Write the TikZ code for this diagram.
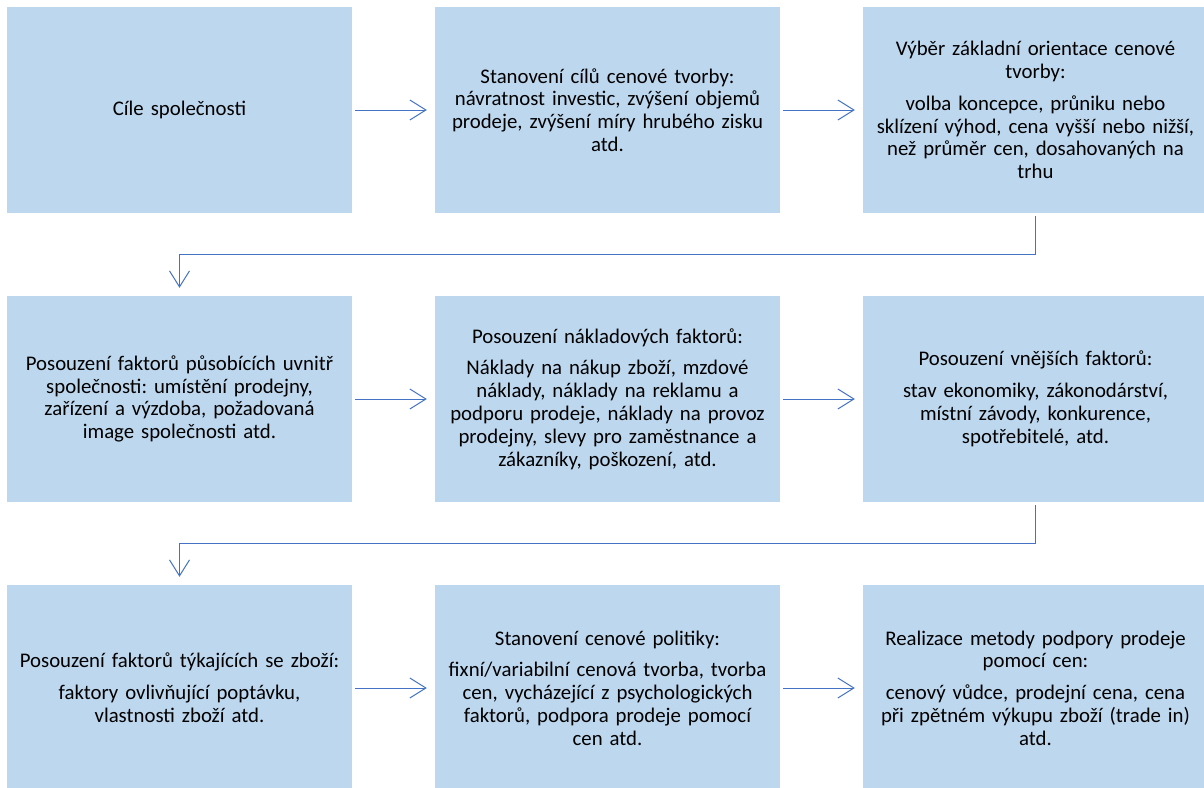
\documentclass[tikz,border=0pt]{standalone}
\usepackage{fontspec}
\setmainfont{Carlito}
\usetikzlibrary{arrows.meta}
\definecolor{boxblue}{HTML}{BDD7EE}
\definecolor{linkblue}{HTML}{4472C4}
\frenchspacing
\begin{document}
\frenchspacing
\begin{tikzpicture}[x=1pt,y=-1pt,
  stepbox/.style={rectangle, fill=boxblue, minimum width=345pt, minimum height=206pt, inner sep=0pt, text width=338pt, align=center, font=\fontsize{20.8}{22.8}\selectfont\frenchspacing},
  link/.style={draw=linkblue, line width=1pt, -{Straight Barb[length=16pt,width=20pt]}, shorten <=3pt, shorten >=8pt}]
\useasboundingbox (0,0) rectangle (1204,787);
\coordinate (m1) at (0,254.5);
\coordinate (m2) at (0,543.5);
\node[stepbox] (b1) at (179.5,110) {Cíle společnosti};
\node[stepbox] (b2) at (607.5,110) {Stanovení cílů cenové tvorby:\\ návratnost investic, zvýšení objemů\\ prodeje, zvýšení míry hrubého zisku\\ atd.};
\node[stepbox] (b3) at (1035.5,110) {Výběr základní orientace cenové\\ tvorby:\\[9pt] volba koncepce, průniku nebo\\ sklízení výhod, cena vyšší nebo nižší,\\ než průměr cen, dosahovaných na\\ trhu};
\node[stepbox] (b4) at (179.5,399) {Posouzení faktorů působících uvnitř\\ společnosti: umístění prodejny,\\ zařízení a výzdoba, požadovaná\\ image společnosti atd.};
\node[stepbox] (b5) at (607.5,399) {Posouzení nákladových faktorů:\\[9pt] Náklady na nákup zboží, mzdové\\ náklady, náklady na reklamu a\\ podporu prodeje, náklady na provoz\\ prodejny, slevy pro zaměstnance a\\ zákazníky, poškození, atd.};
\node[stepbox] (b6) at (1035.5,399) {Posouzení vnějších faktorů:\\[9pt] stav ekonomiky, zákonodárství,\\ místní závody, konkurence,\\ spotřebitelé, atd.};
\node[stepbox] (b7) at (179.5,688) {Posouzení faktorů týkajících se zboží:\\[9pt] faktory ovlivňující poptávku,\\ vlastnosti zboží atd.};
\node[stepbox] (b8) at (607.5,688) {Stanovení cenové politiky:\\[9pt] fixní/variabilní cenová tvorba, tvorba\\ cen, vycházející z psychologických\\ faktorů, podpora prodeje pomocí\\ cen atd.};
\node[stepbox] (b9) at (1035.5,688) {Realizace metody podpory prodeje\\ pomocí cen:\\[9pt] cenový vůdce, prodejní cena, cena\\ při zpětném výkupu zboží (trade in)\\ atd.};
\draw[link] (b1.east) -- (b2.west);
\draw[link] (b2.east) -- (b3.west);
\draw[link] (b3.south) -- (b3.south |- m1) -| (b4.north);
\draw[link] (b4.east) -- (b5.west);
\draw[link] (b5.east) -- (b6.west);
\draw[link] (b6.south) -- (b6.south |- m2) -| (b7.north);
\draw[link] (b7.east) -- (b8.west);
\draw[link] (b8.east) -- (b9.west);
\end{tikzpicture}
\end{document}
